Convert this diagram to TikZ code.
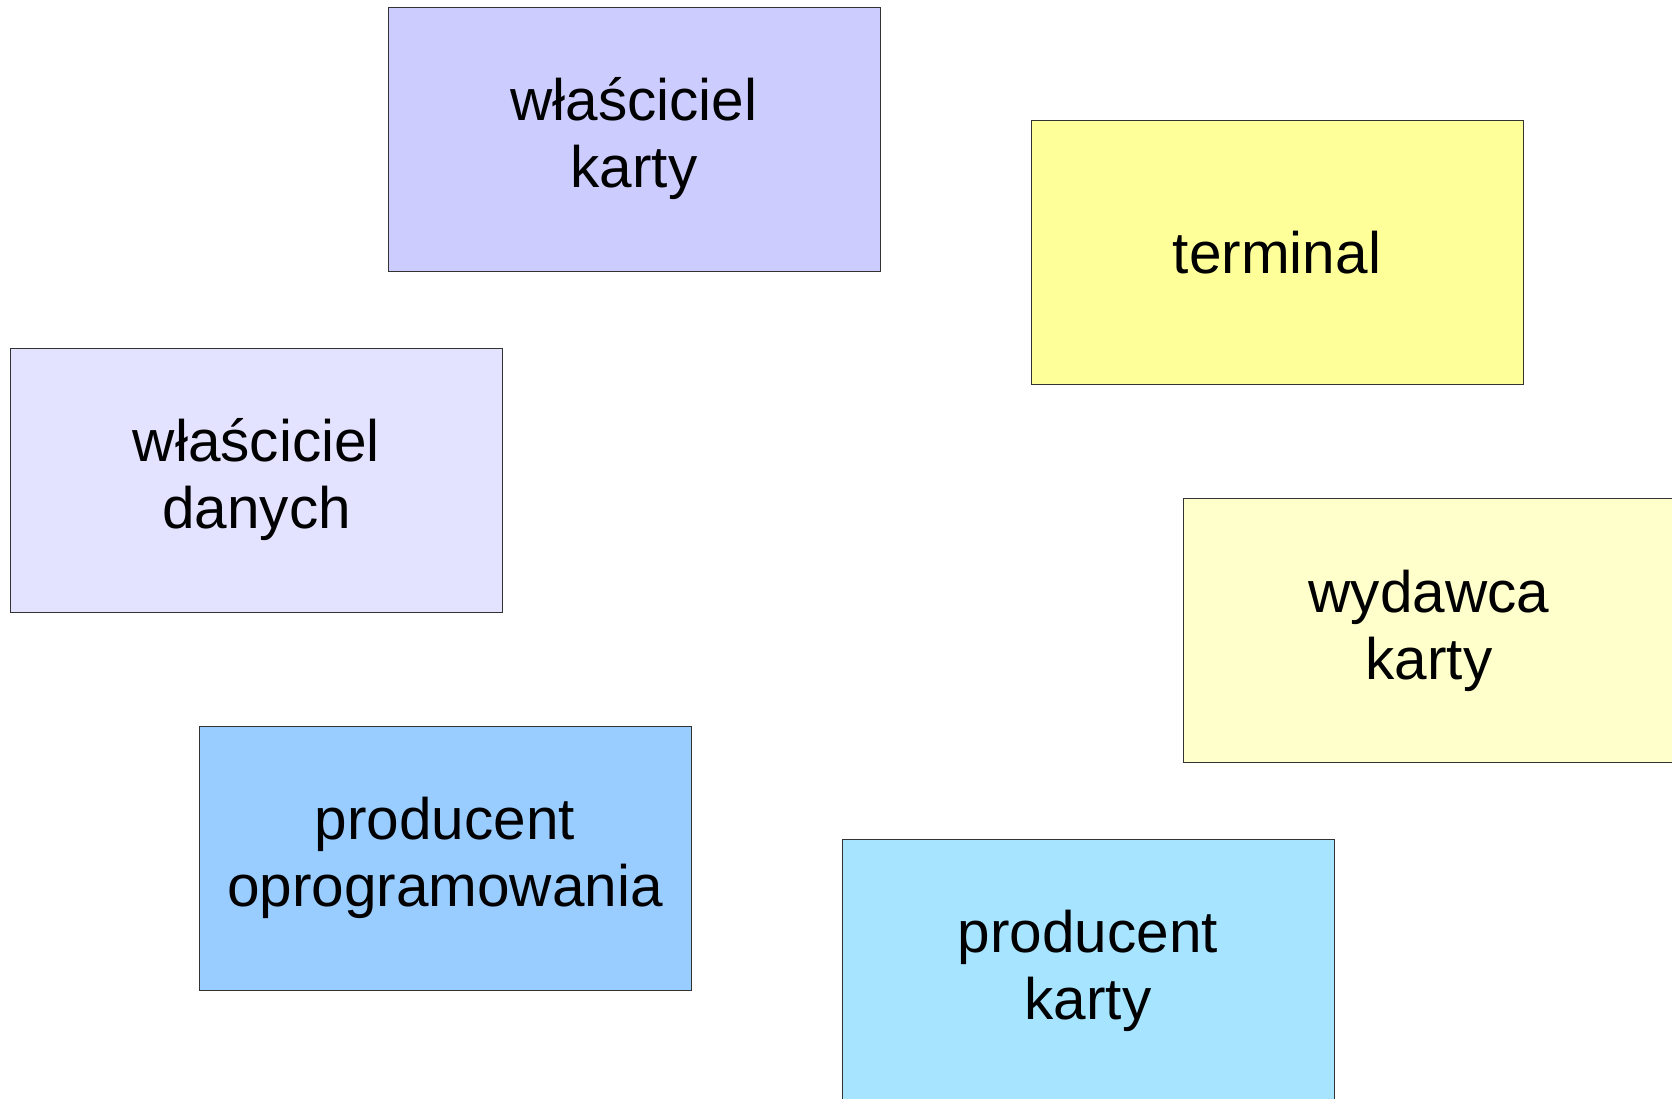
\documentclass[tikz,border=0pt]{standalone}
\usepackage{fontspec}
\setmainfont{Liberation Sans}
\definecolor{cA}{HTML}{CCCCFF}
\definecolor{cB}{HTML}{FFFF99}
\definecolor{cC}{HTML}{E3E3FF}
\definecolor{cD}{HTML}{FFFFCC}
\definecolor{cE}{HTML}{99CCFF}
\definecolor{cF}{HTML}{A6E4FF}
\definecolor{edge}{HTML}{333333}
\begin{document}
\begin{tikzpicture}[x=1pt,y=-1pt,
  box/.style={draw=edge, line width=1pt, minimum width=492pt, minimum height=264pt,
    inner sep=0pt, align=center, font=\fontsize{58.5}{67}\selectfont}]
\useasboundingbox (0,0) rectangle (1672,1098);
\clip (0,0) rectangle (1672,1098);
\fill[white] (0,0) rectangle (1672,1098);
\node[box, fill=cA] (wk) at (634,139) {właściciel\\karty};
\node[box, fill=cB] (term) at (1277,252.5) {terminal};
\node[box, fill=cC] (wd) at (256.5,480) {właściciel\\danych};
\node[box, fill=cD] (wyd) at (1429,630.5) {wydawca\\karty};
\node[box, fill=cE] (po) at (445,858) {producent\\oprogramowania};
\node[box, fill=cF] (pk) at (1088,971) {producent\\karty};
\end{tikzpicture}
\end{document}
